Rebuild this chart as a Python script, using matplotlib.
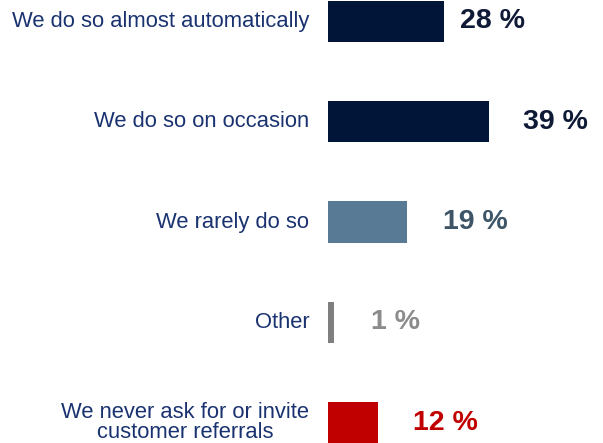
import matplotlib.pyplot as plt

# survey answers, top to bottom
categories = ['We do so almost automatically', 'We do so on occasion',
              'We rarely do so', 'Other',
              'We never ask for or invite\ncustomer referrals']
shares = [28, 39, 19, 1, 12]

bar_colors = ['#001537', '#001537', '#587a94', '#7f7f7f', '#c00000']
label_colors = ['#0f1a36', '#0f1a36', '#3d5566', '#8c8c8c', '#c00000']
label_pad = [3.8, 8.2, 8.7, 9.0, 8.5]   # gap between bar end and value text

plt.rcParams['font.family'] = ['Liberation Sans', 'DejaVu Sans']

fig = plt.figure(figsize=(6.03, 4.43), dpi=100)
ax = fig.add_axes([328 / 603, 0, 275 / 603, 1])

pos = list(range(len(shares)))
widths = [max(v, 1.45) for v in shares]   # keep the tiny bar visible
ax.barh(pos, widths, height=0.41, color=bar_colors)

for p, v, w, c, pad in zip(pos, shares, widths, label_colors, label_pad):
    ax.text(w + pad, p, f'{v} %', va='center', ha='left', fontsize=20.5,
            fontweight='bold', color=c)

for p, name in zip(pos, categories):
    ax.text(-4.5, p, name, va='center', ha='right', fontsize=15.8,
            color='#1a3370', multialignment='center' if '\n' in name else 'right',
            linespacing=0.98, clip_on=False)

ax.set_xlim(0, 275 / 4.14)
ax.set_ylim(4 + 20.5 / 100.25, -21.5 / 100.25)
ax.axis('off')

fig.savefig('out.png', dpi=100)
